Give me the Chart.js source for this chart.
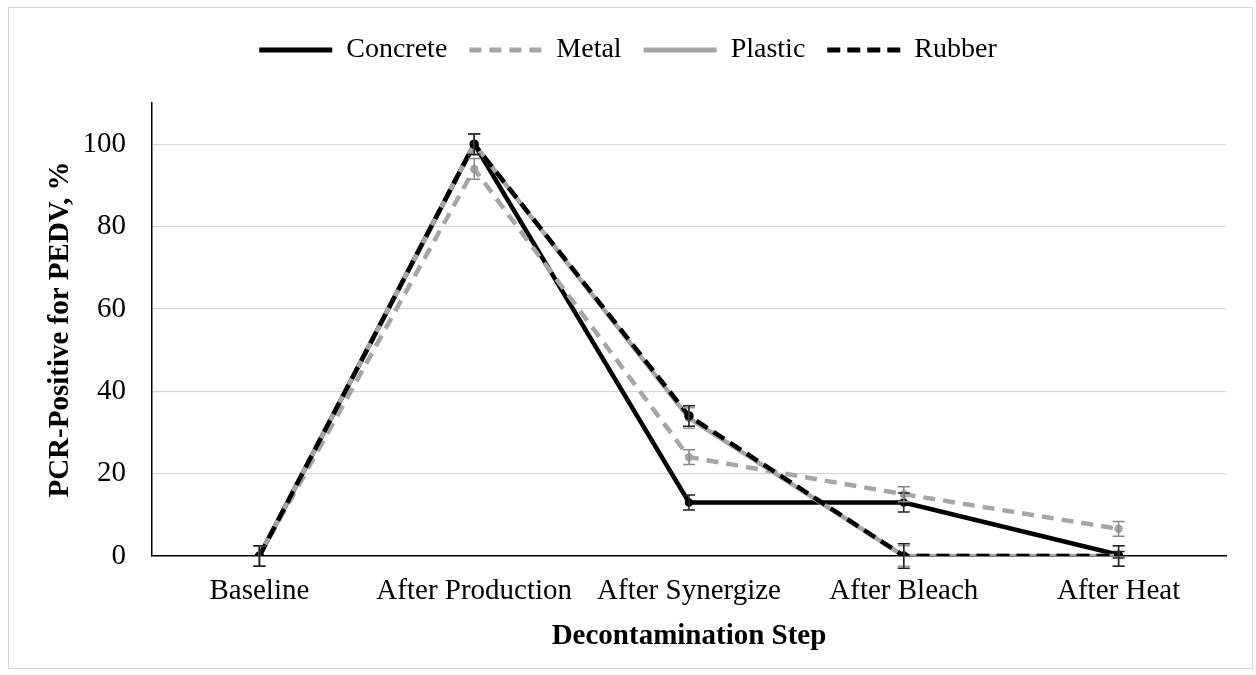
<!DOCTYPE html>
<html>
<head>
<meta charset="utf-8">
<script src="https://cdn.jsdelivr.net/npm/chart.js@4.4.1/dist/chart.umd.min.js"></script>
<style>
html,body{margin:0;padding:0;background:#fff;}
#wrap{position:absolute;left:0;top:0;width:1256px;height:675px;}
#frame{position:absolute;left:8px;top:7px;width:1245px;height:662px;border:1px solid #d9d9d9;box-sizing:border-box;pointer-events:none;}
</style>
</head>
<body>
<div id="wrap"><canvas id="c" width="1256" height="675"></canvas></div>
<div id="frame"></div>
<script>
const categories = ["Baseline", "After Production", "After Synergize", "After Bleach", "After Heat"];
const concrete = [0, 100, 13, 13, 0.3];
const metal = [0, 94, 24, 15, 6.6];
const plastic = [0, 100, 33.5, 0, 0];
const rubber = [0, 100, 34, 0, 0];
const concreteErr = [2.5, 2.5, 1.8, 2.3, 0.8];
const metalErr = [2.5, 2.5, 1.8, 1.8, 1.8];
const plasticErr = [2.5, 2.5, 2.5, 2.5, 2.5];
const rubberErr = [2.5, 2.5, 2.5, 3, 2.5];
const yTicks = [0, 20, 40, 60, 80, 100];

const FONT = "'Liberation Serif', 'Times New Roman', serif";

const errorBars = {
  id: 'errorBars',
  afterDatasetsDraw(chart) {
    const ctx = chart.ctx;
    const y = chart.scales.y;
    chart.data.datasets.forEach((ds, i) => {
      const meta = chart.getDatasetMeta(i);
      if (!ds.errors) return;
      ctx.save();
      ctx.strokeStyle = ds.errColor;
      ctx.lineWidth = 1.5;
      meta.data.forEach((pt, j) => {
        const v = ds.data[j], e = ds.errors[j];
        const top = y.getPixelForValue(v + e), bot = y.getPixelForValue(v - e);
        ctx.beginPath();
        ctx.moveTo(pt.x, top); ctx.lineTo(pt.x, bot);
        ctx.moveTo(pt.x - 6, top); ctx.lineTo(pt.x + 6, top);
        ctx.moveTo(pt.x - 6, bot); ctx.lineTo(pt.x + 6, bot);
        ctx.stroke();
      });
      ctx.restore();
    });
  }
};

const legendSpace = {
  id: 'legendSpace',
  afterInit(chart) {
    const lg = chart.legend;
    if (!lg) return;
    const orig = lg.fit.bind(lg);
    lg.fit = function () { orig(); this.height += 29; };
  }
};

new Chart(document.getElementById('c'), {
  type: 'line',
  data: {
    labels: categories,
    datasets: [
      { label: 'Concrete', data: concrete, errors: concreteErr, errColor: '#222', borderColor: '#000', backgroundColor: '#000', borderWidth: 4.5, pointRadius: 2, order: 3 },
      { label: 'Metal', data: metal, errors: metalErr, errColor: '#888', borderColor: '#a6a6a6', backgroundColor: '#a6a6a6', borderWidth: 4.5, borderDash: [12, 8], pointRadius: 2, order: 2 },
      { label: 'Plastic', data: plastic, errors: plasticErr, errColor: '#999', borderColor: '#a6a6a6', backgroundColor: '#a6a6a6', borderWidth: 4.5, pointRadius: 2, order: 1 },
      { label: 'Rubber', data: rubber, errors: rubberErr, errColor: '#222', borderColor: '#000', backgroundColor: '#000', borderWidth: 4.5, borderDash: [13, 7], pointRadius: 2.5, order: 0 }
    ]
  },
  options: {
    responsive: false,
    animation: false,
    layout: { padding: { left: 30, right: 30, top: 14, bottom: 17 } },
    plugins: {
      tooltip: { enabled: false },
      legend: {
        position: 'top',
        labels: {
          generateLabels(chart) {
            return chart.data.datasets.map((ds, i) => ({
              text: ds.label,
              fillStyle: ds.borderColor,
              strokeStyle: ds.borderColor,
              lineWidth: 5,
              lineDash: ds.borderDash || [],
              lineCap: 'butt',
              pointStyle: 'line',
              datasetIndex: i,
              hidden: false,
              fontColor: '#000'
            }));
          },
          usePointStyle: true,
          pointStyle: 'line',
          pointStyleWidth: 73,
          boxWidth: 73,
          boxHeight: 20,
          padding: 22,
          color: '#000',
          font: { family: FONT, size: 28 }
        }
      }
    },
    scales: {
      x: {
        offset: true,
        grid: { display: false, drawTicks: false },
        border: { display: true, color: '#000', width: 1.5 },
        ticks: { color: '#000', font: { family: FONT, size: 29 }, padding: 18, maxRotation: 0 },
        title: { display: true, text: 'Decontamination Step', color: '#000', font: { family: FONT, size: 29, weight: 'bold' }, padding: { top: 4, bottom: 4 } },
        afterFit(s) { s.height = 102; }
      },
      y: {
        min: 0, max: 110,
        afterBuildTicks(s) { s.ticks = yTicks.map(v => ({ value: v })); },
        grid: { color: '#d9d9d9', lineWidth: 1.2, drawTicks: false },
        border: { display: true, color: '#000', width: 1.5 },
        ticks: { color: '#000', font: { family: FONT, size: 29 }, padding: 26 },
        title: { display: true, text: 'PCR-Positive for PEDV, %', color: '#000', font: { family: FONT, size: 29, weight: 'bold' }, padding: { top: 13, bottom: 0 } },
        afterFit(s) { s.width = 122; }
      }
    }
  },
  plugins: [errorBars, legendSpace]
});
</script>
</body>
</html>
